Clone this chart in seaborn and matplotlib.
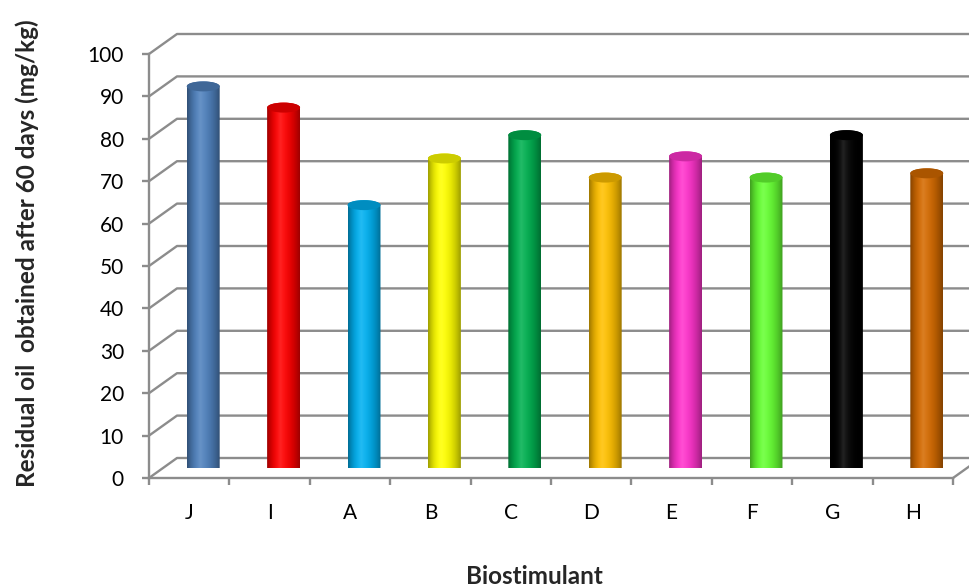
import numpy as np
import matplotlib
matplotlib.use("Agg")
import matplotlib.pyplot as plt
from matplotlib.patches import PathPatch, Ellipse
from matplotlib.path import Path
from matplotlib.colors import to_rgb
import seaborn as sns

# Residual oil after 60 days for each biostimulant
categories = ["J", "I", "A", "B", "C", "D", "E", "F", "G", "H"]
values = [90, 85, 62, 73, 78.5, 68.5, 73.5, 68.5, 78.5, 69.5]
colors = ["#4f81bd", "#ff0000", "#00b0f0", "#ffff00", "#00b050",
          "#ffc000", "#ff33cc", "#66ff33", "#000000", "#d46a00"]
y_ticks = list(range(0, 101, 10))

sns.set_style("white")
plt.rcParams["font.family"] = ["Lato", "DejaVu Sans"]

W, H = 969, 587
fig = plt.figure(figsize=(W / 100, H / 100), dpi=100)

# front plane of the 3D box (pixel geometry)
fx0, fx1, fy0, fy1 = 149, 953, 478, 54
depth_dx, depth_dy = 28, 20          # offset of the back wall in pixels
grid_col = "#8c8c8c"
lw = 1.7

pos = [fx0 / W, (H - fy0) / H, (fx1 - fx0) / W, (fy0 - fy1) / H]
ax = fig.add_axes(pos)
ax.set_xlim(-0.5, len(categories) - 0.5)
ax.set_ylim(0, 100)
ax.patch.set_alpha(0)

ux = (fx1 - fx0) / len(categories)     # pixels per category
uy = (fy0 - fy1) / 100.0               # pixels per unit
dx, dy = depth_dx / ux, depth_dy / uy

# back wall gridlines with their diagonals to the front axis
x_left = -0.5
x_far = len(categories) - 0.5 + dx
for v in y_ticks:
    ax.plot([x_left, x_left + dx, x_far], [v, v + dy, v + dy],
            color=grid_col, lw=lw, clip_on=False, zorder=1,
            solid_capstyle="butt")
# right edge of the floor
ax.plot([len(categories) - 0.5, x_far], [0, dy], color=grid_col, lw=lw,
        clip_on=False, zorder=1)

for s in ["top", "right"]:
    ax.spines[s].set_visible(False)
for s in ["left", "bottom"]:
    ax.spines[s].set_color(grid_col)
    ax.spines[s].set_linewidth(lw)

ax.set_yticks(y_ticks)
ax.set_yticklabels([str(v) for v in y_ticks], fontsize=15)
ax.tick_params(axis="y", direction="out", length=5, width=lw,
               color=grid_col, pad=13, labelcolor="black", left=True)
ax.set_xticks(range(len(categories)))
ax.set_xticklabels(categories, fontsize=15)
ax.tick_params(axis="x", which="major", length=0, pad=18, labelcolor="black")
ax.set_xticks(np.arange(-0.5, len(categories), 1.0), minor=True)
ax.tick_params(axis="x", which="minor", direction="out", length=5,
               width=lw, color=grid_col, bottom=True)

# mid-depth plane where the cylinders stand
pos_b = [(fx0 + depth_dx / 2) / W, (H - fy0 + depth_dy / 2) / H,
         (fx1 - fx0) / W, (fy0 - fy1) / H]
axb = fig.add_axes(pos_b)
axb.patch.set_alpha(0)
sns.barplot(x=categories, y=values, hue=categories, order=categories,
            hue_order=categories, palette=colors, width=0.41,
            saturation=1, legend=False, ax=axb)
axb.set_xlim(-0.5, len(categories) - 0.5)
axb.set_ylim(0, 100)
axb.axis("off")

ry = 5.0 / uy   # half height of the cylinder caps in data units


def shade(base, n=64):
    t = np.linspace(0, 1, n)
    c = 0.40
    d = np.where(t < c, (c - t) / c, (t - c) / (1 - c))
    f = 1 - 0.38 * d ** 2
    b = np.array(base)
    rgb = b[None, :] * f[:, None] + (1 - b[None, :]) * 0.14 * ((1 - d) ** 3)[:, None]
    return np.clip(rgb, 0, 1)[None, :, :]


for p in list(axb.patches):
    x0, w, h = p.get_x(), p.get_width(), p.get_height()
    base = to_rgb(p.get_facecolor())
    p.set_visible(False)
    cx, a = x0 + w / 2, w / 2
    t1 = np.linspace(np.pi, 0, 60)
    t2 = np.linspace(0, -np.pi, 60)
    top = np.column_stack([cx + a * np.cos(t1), h + ry * np.sin(t1)])
    bot = np.column_stack([cx + a * np.cos(t2), ry * np.sin(t2)])
    verts = np.vstack([top, bot, top[:1]])
    codes = [Path.MOVETO] + [Path.LINETO] * (len(verts) - 2) + [Path.CLOSEPOLY]
    body = PathPatch(Path(verts, codes), facecolor="none", edgecolor="none",
                     transform=axb.transData)
    axb.add_patch(body)
    im = axb.imshow(shade(base), extent=[x0, x0 + w, -ry, h + ry],
                    aspect="auto", interpolation="bicubic", zorder=2)
    im.set_clip_path(body)
    cap = tuple(np.clip(np.array(base) * 0.80, 0, 1))
    axb.add_patch(Ellipse((cx, h), w, 2 * ry, facecolor=cap,
                          edgecolor="none", zorder=3))

axb.set_xlim(-0.5, len(categories) - 0.5)
axb.set_ylim(0, 100)

fig.text(27 / W, 1 - 253 / H, "Residual oil  obtained after 60 days (mg/kg)",
         rotation=90, ha="center", va="center", fontsize=17.5,
         fontweight="bold")
fig.text(534 / W, 1 - 577 / H, "Biostimulant", ha="center", va="center",
         fontsize=17.5, fontweight="bold")

fig.savefig("out.png", dpi=100)
